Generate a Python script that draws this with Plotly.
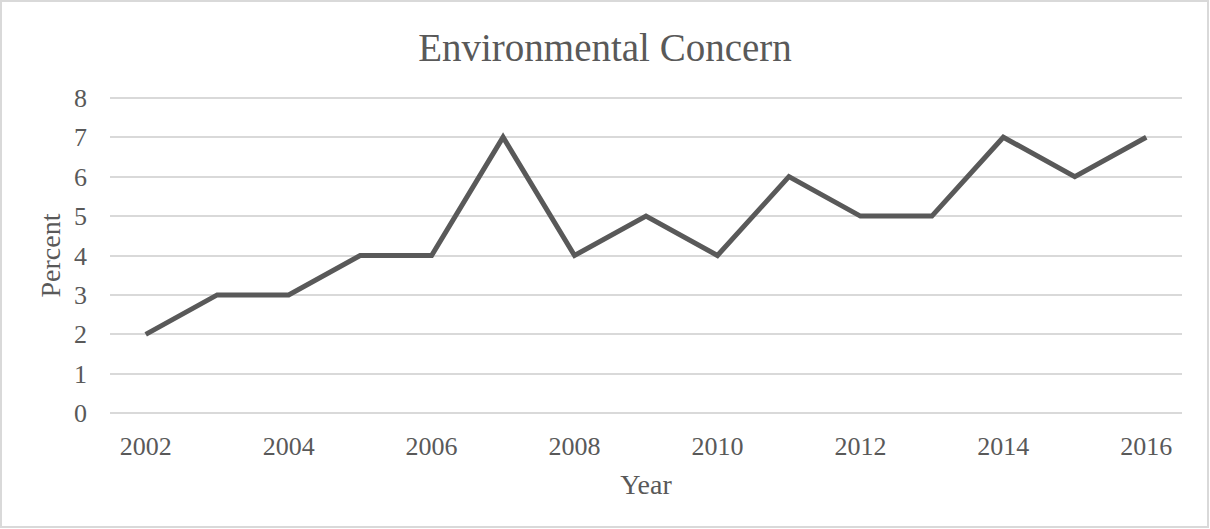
import plotly.graph_objects as go

# Survey results by year
years = [2002, 2003, 2004, 2005, 2006, 2007, 2008, 2009, 2010, 2011, 2012, 2013, 2014, 2015, 2016]
percent = [2, 3, 3, 4, 4, 7, 4, 5, 4, 6, 5, 5, 7, 6, 7]
x_ticks = [2002, 2004, 2006, 2008, 2010, 2012, 2014, 2016]
y_ticks = [0, 1, 2, 3, 4, 5, 6, 7, 8]

W, H = 1210, 529
ML, MR, MT, MB = 110, 28, 95, 113
FONT = "Liberation Serif"
TEXT = "#595959"
GRID = "#d9d9d9"
PAD = 0.07  # keeps the 0 and 8 gridlines inside the plot area

fig = go.Figure(
    go.Scatter(
        x=years,
        y=percent,
        mode="lines",
        line=dict(color="#595959", width=5),
        hoverinfo="x+y",
    )
)

pw, ph = W - ML - MR, H - MT - MB
# outer chart border, expressed in paper coordinates
bx0, bx1 = (1 - ML) / pw, (W - 2 - ML) / pw
by0, by1 = -(H - 2 - MT - ph) / ph, (H - 1 - MB) / ph

fig.update_layout(
    width=W,
    height=H,
    margin=dict(l=ML, r=MR, t=MT, b=MB, pad=0),
    paper_bgcolor="white",
    plot_bgcolor="white",
    showlegend=False,
    font=dict(family=FONT, color=TEXT),
    title=dict(
        text="Environmental Concern",
        x=0.5,
        xanchor="center",
        y=1 - 47 / H,
        yanchor="middle",
        font=dict(family=FONT, size=39, color=TEXT),
    ),
    xaxis=dict(
        range=[2001.5, 2016.5],
        tickvals=x_ticks,
        ticktext=[str(t) for t in x_ticks],
        showgrid=False,
        zeroline=False,
        showline=False,
        ticks="",
        ticklabelstandoff=12,
        tickfont=dict(size=26, color=TEXT),
        title=dict(text="Year", font=dict(size=28, color=TEXT), standoff=14),
    ),
    yaxis=dict(
        range=[-PAD, 8 + PAD],
        tickvals=y_ticks,
        showgrid=True,
        gridcolor=GRID,
        gridwidth=1.5,
        zeroline=False,
        showline=False,
        ticks="",
        ticklabelstandoff=22,
        tickfont=dict(size=26, color=TEXT),
        title=dict(text="Percent", font=dict(size=28, color=TEXT), standoff=5),
    ),
    shapes=[
        dict(
            type="rect",
            xref="paper",
            yref="paper",
            x0=bx0,
            x1=bx1,
            y0=by0,
            y1=by1,
            line=dict(color=GRID, width=2),
            fillcolor="rgba(0,0,0,0)",
            layer="below",
        )
    ],
)

fig.write_html("out.html")
